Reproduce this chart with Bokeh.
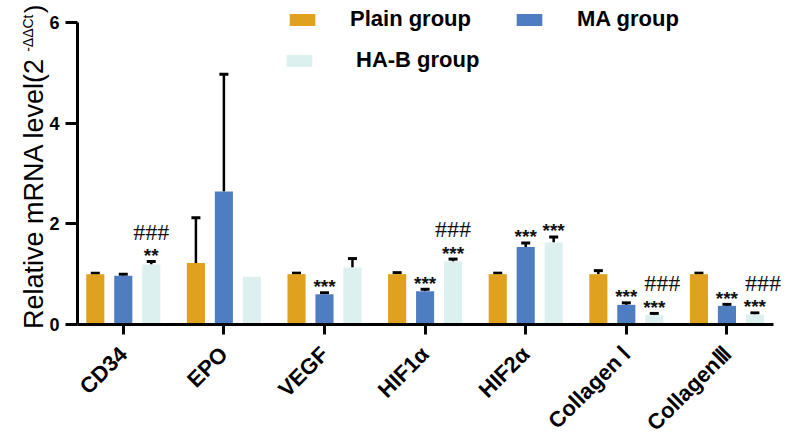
from math import pi

from bokeh.core.properties import value
from bokeh.embed import file_html
from bokeh.models import (ColumnDataSource, FixedTicker, Label, Legend,
                          LegendItem, Range1d, TeeHead, Whisker)
from bokeh.plotting import figure
from bokeh.resources import INLINE

# ---- data -----------------------------------------------------------------
genes = ["CD34", "EPO", "VEGF", "HIF1α", "HIF2α", "Collagen Ⅰ", "CollagenⅢ"]
groups = ["Plain group", "MA group", "HA-B group"]

plain_mean = [1.00, 1.22, 1.00, 1.00, 1.00, 1.00, 1.00]
plain_err = [0.02, 0.90, 0.02, 0.03, 0.02, 0.07, 0.02]
ma_mean = [0.97, 2.64, 0.60, 0.66, 1.54, 0.39, 0.37]
ma_err = [0.03, 2.33, 0.03, 0.04, 0.08, 0.04, 0.03]
hab_mean = [1.19, 0.95, 1.13, 1.25, 1.63, 0.19, 0.20]
hab_err = [0.06, 0.00, 0.18, 0.05, 0.11, 0.03, 0.03]

# significance marks: * vs Plain group, # vs MA group
ma_star = ["", "", "***", "***", "***", "***", "***"]
hab_star = ["**", "", "", "***", "***", "***", "***"]
hab_hash = ["###", "", "", "###", "", "###", "###"]

y_ticks = [0, 2, 4, 6]

# ---- style / layout -------------------------------------------------------
colors = ["#E0A11F", "#4E7EC1", "#DCF0EF"]
offsets = [-0.278, 0.0, 0.278]
BAR_W = 0.18
FONT = "Liberation Sans"

W, H = 790, 441
AX_LEFT, AX_TOP, AX_W, AX_H = 77, 22, 696, 302   # axes box in canvas pixels
X0, X1 = -0.455, 6.463                            # data span of the x axis
Y0, Y1 = 0, 6                                     # data span of the y axis
PX_X = AX_W / (X1 - X0)
PX_Y = AX_H / (Y1 - Y0)

# the plotting frame covers the whole canvas; axes are pinned inside it
XF0 = X0 - AX_LEFT / PX_X
XF1 = XF0 + W / PX_X
YF1 = Y1 + AX_TOP / PX_Y
YF0 = YF1 - H / PX_Y


def cx(px):
    """canvas x pixel -> data x"""
    return XF0 + px / PX_X


def cy(py):
    """canvas y pixel (from top) -> data y"""
    return YF1 - py / PX_Y


p = figure(
    frame_width=W, frame_height=H,
    x_range=Range1d(XF0, XF1), y_range=Range1d(YF0, YF1),
    output_backend="svg", toolbar_location=None,
    min_border=0,
)
p.outline_line_color = None
p.grid.visible = False
p.background_fill_color = "white"
p.border_fill_color = "white"

# ---- bars and error bars --------------------------------------------------
means = [plain_mean, ma_mean, hab_mean]
errs = [plain_err, ma_err, hab_err]
renderers = []
bar_x = []
for g, (m, e, c, off) in enumerate(zip(means, errs, colors, offsets)):
    xs = [i + off for i in range(len(genes))]
    bar_x.append(xs)
    src = ColumnDataSource(dict(x=xs, top=m))
    r = p.vbar(x="x", top="top", width=BAR_W, source=src,
               fill_color=c, line_color=None)
    renderers.append(r)

    keep = [i for i in range(len(genes)) if e[i] > 0]
    wsrc = ColumnDataSource(dict(
        x=[xs[i] for i in keep],
        lo=[m[i] for i in keep],
        hi=[m[i] + e[i] for i in keep],
    ))
    w = Whisker(base="x", lower="lo", upper="hi", source=wsrc,
                dimension="height", line_color="black", line_width=2.5,
                upper_head=TeeHead(size=9, line_width=3, line_color="black"),
                lower_head=None)
    p.add_layout(w)

# ---- significance marks ---------------------------------------------------
star_x, star_y, star_t = [], [], []
hash_x, hash_y, hash_t = [], [], []
for g, marks in ((1, ma_star), (2, hab_star)):
    for i, t in enumerate(marks):
        if t:
            star_x.append(bar_x[g][i])
            star_y.append(means[g][i] + errs[g][i] + 6 / PX_Y)
            star_t.append(t)
for i, t in enumerate(hab_hash):
    if t:
        # the two collagen marks sit a little to the right, clear of the stars
        nudge = 0.08 if means[2][i] < 0.5 else 0.0
        hash_x.append(bar_x[2][i] + nudge)
        hash_y.append(means[2][i] + errs[2][i] + 30 / PX_Y)
        hash_t.append(t)

p.text(x="x", y="y", text="t",
       source=ColumnDataSource(dict(x=star_x, y=star_y, t=star_t)),
       text_font=value(FONT), text_font_style="bold", text_font_size="19px",
       text_align="center", text_baseline="middle", text_color="#111111")
p.text(x="x", y="y", text="t",
       source=ColumnDataSource(dict(x=hash_x, y=hash_y, t=hash_t)),
       text_font=value("Liberation Serif"), text_font_size="24px",
       text_align="center", text_baseline="middle", text_color="#111111")

# ---- axes (pinned at the data origin) -------------------------------------
for ax in (p.xaxis[0], p.yaxis[0]):
    ax.axis_line_width = 3
    ax.axis_line_color = "black"
    ax.major_tick_line_width = 3
    ax.major_tick_line_color = "black"
    ax.major_tick_in = 0
    ax.minor_tick_out = 0
    ax.minor_tick_in = 0
    ax.major_label_text_font = FONT
    ax.major_label_text_font_style = "bold"
    ax.major_label_text_color = "black"

p.yaxis.fixed_location = X0
p.yaxis.bounds = (Y0, Y1)
p.yaxis.ticker = FixedTicker(ticks=y_ticks)
p.yaxis.major_tick_out = 12
p.yaxis.major_label_standoff = 6
p.yaxis.major_label_text_font_size = "18px"

p.xaxis.fixed_location = Y0
p.xaxis.bounds = (X0, X1)
p.xaxis.ticker = FixedTicker(ticks=list(range(len(genes))))
p.xaxis.major_label_overrides = {i: g for i, g in enumerate(genes)}
p.xaxis.major_label_orientation = pi / 4
p.xaxis.major_tick_out = 10
p.xaxis.major_label_standoff = 16
p.xaxis.major_label_text_font_size = "22px"

# y-axis title with superscript exponent, laid out from its top end down
ylab = dict(angle=pi / 2, text_align="right", text_baseline="middle",
            text_font=FONT, text_color="black")
p.add_layout(Label(x=cx(33), y=cy(4), text=")",
                   text_font_size="26px", **ylab))
p.add_layout(Label(x=cx(27), y=cy(14), text="-ΔΔCt",
                   text_font_size="14px", **ylab))
p.add_layout(Label(x=cx(33), y=cy(57), text="Relative mRNA level(2",
                   text_font_size="27px", **ylab))

# ---- legend ---------------------------------------------------------------
common = dict(padding=0, margin=0, border_line_color=None,
              background_fill_alpha=0, glyph_width=32, glyph_height=15,
              label_text_font=FONT, label_text_font_style="bold",
              label_text_font_size="22px", label_text_color="black")
leg1 = Legend(items=[LegendItem(label=groups[0], renderers=[renderers[0]]),
                     LegendItem(label=groups[1], renderers=[renderers[1]])],
              orientation="horizontal", location=(286, H - 32),
              label_standoff=32, spacing=42, **common)
leg2 = Legend(items=[LegendItem(label=groups[2], renderers=[renderers[2]])],
              location=(283, H - 73),
              label_standoff=41, **common)
p.add_layout(leg1)
p.add_layout(leg2)

open("out.html", "w").write(file_html(p, INLINE))
